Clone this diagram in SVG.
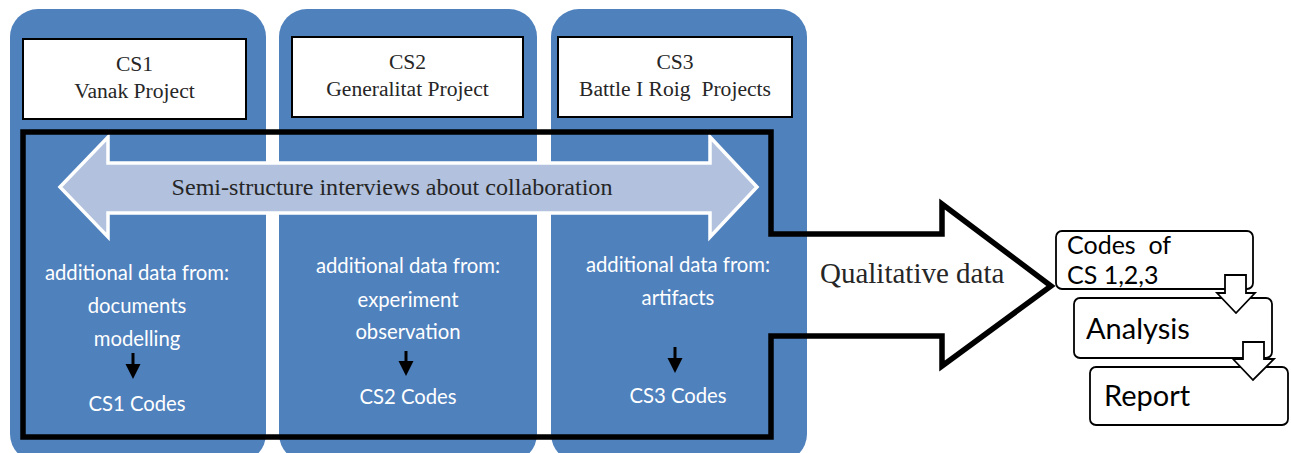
<svg xmlns="http://www.w3.org/2000/svg" width="1291" height="453" viewBox="0 0 1291 453">
  <style>
    .panel { fill: #4F81BD; }
    .cs-box { fill: #ffffff; stroke: #000000; stroke-width: 2; }
    .serif { font-family: "Liberation Serif", "Times New Roman", serif; fill: #262626; }
    .cs-title { font-size: 21.6px; text-anchor: middle; }
    .sans { font-family: Lato, "Open Sans", sans-serif; }
    .panel-text { font-size: 20.3px; fill: #ffffff; text-anchor: middle; }
    .step-box { fill: #ffffff; stroke: #000000; stroke-width: 1.8; }
    .step-text { fill: #000000; }
    .frame { fill: none; stroke: #000000; stroke-width: 5.5; stroke-linejoin: miter; }
    .small-arrow line { stroke: #000000; stroke-width: 3; }
    .small-arrow polygon { fill: #000000; }
    .block-arrow { fill: #ffffff; stroke: #000000; stroke-width: 1.8; }
    .interview { fill: #B1C1DE; stroke: #ffffff; stroke-width: 3.5; }
  </style>

  <rect width="1291" height="453" fill="#ffffff"/>

  <!-- Case study columns (rounded bottoms run just past the lower edge) -->
  <g id="panel-cs1">
    <rect class="panel" x="10" y="9" width="256" height="453" rx="28"/>
    <rect class="cs-box" x="23" y="39" width="223" height="80"/>
    <text class="serif cs-title" x="134.5" y="71">CS1</text>
    <text class="serif cs-title" x="134.5" y="98">Vanak Project</text>
  </g>
  <g id="panel-cs2">
    <rect class="panel" x="279" y="9" width="258" height="453" rx="28"/>
    <rect class="cs-box" x="292" y="37" width="231" height="80"/>
    <text class="serif cs-title" x="407.5" y="69">CS2</text>
    <text class="serif cs-title" x="407.5" y="96">Generalitat Project</text>
  </g>
  <g id="panel-cs3">
    <rect class="panel" x="551" y="9" width="256" height="453" rx="28"/>
    <rect class="cs-box" x="558" y="37" width="234" height="80"/>
    <text class="serif cs-title" x="675" y="69">CS3</text>
    <text class="serif cs-title" x="675" y="96" xml:space="preserve">Battle I Roig  Projects</text>
  </g>

  <!-- Additional data per case -->
  <g id="data-cs1">
    <text class="sans panel-text" x="137" y="280">additional data from:</text>
    <text class="sans panel-text" x="137" y="313">documents</text>
    <text class="sans panel-text" x="137" y="346">modelling</text>
    <text class="sans panel-text" x="137" y="411">CS1 Codes</text>
  </g>
  <g id="data-cs2">
    <text class="sans panel-text" x="408" y="273">additional data from:</text>
    <text class="sans panel-text" x="408" y="307">experiment</text>
    <text class="sans panel-text" x="408" y="339">observation</text>
    <text class="sans panel-text" x="408" y="404">CS2 Codes</text>
  </g>
  <g id="data-cs3">
    <text class="sans panel-text" x="678" y="272">additional data from:</text>
    <text class="sans panel-text" x="678" y="305">artifacts</text>
    <text class="sans panel-text" x="678" y="403">CS3 Codes</text>
  </g>

  <!-- Process steps -->
  <g id="step-codes">
    <rect class="step-box" x="1056" y="231" width="197" height="58" rx="6"/>
    <text class="sans step-text" x="1067" y="254" font-size="25" xml:space="preserve">Codes  of</text>
    <text class="sans step-text" x="1067" y="284" font-size="25">CS 1,2,3</text>
  </g>
  <g id="step-analysis">
    <rect class="step-box" x="1074" y="298" width="198" height="60" rx="6"/>
    <text class="sans step-text" x="1086" y="339" font-size="29">Analysis</text>
  </g>
  <g id="step-report">
    <rect class="step-box" x="1090" y="367" width="198" height="58" rx="6"/>
    <text class="sans step-text" x="1104" y="406" font-size="29">Report</text>
  </g>

  <g id="connectors">
    <!-- interviews span all three cases -->
    <polygon class="interview" points="60,187 108,137 108,163 710,163 710,137 757,187 710,237 710,213 108,213 108,237"/>
    <text class="serif" x="392" y="195" font-size="24.1" text-anchor="middle">Semi-structure interviews about collaboration</text>

    <!-- frame around the case data, leading out as the qualitative data arrow -->
    <polygon class="frame" points="23,132 771,132 771,234 942,234 942,204 1051,286 942,366 942,336 771,336 771,437 23,437"/>
    <text class="serif" x="820" y="283" font-size="29" fill="#404040">Qualitative data</text>

    <!-- per-case code arrows -->
    <g class="small-arrow">
      <line x1="133" y1="353" x2="133" y2="366"/>
      <polygon points="125.5,364 140.5,364 133,379"/>
    </g>
    <g class="small-arrow">
      <line x1="406" y1="351" x2="406" y2="363"/>
      <polygon points="398.5,361 413.5,361 406,376"/>
    </g>
    <g class="small-arrow">
      <line x1="675" y1="347" x2="675" y2="360"/>
      <polygon points="667.5,358 682.5,358 675,373"/>
    </g>

    <!-- step arrows -->
    <polygon class="block-arrow" points="1225,275 1246,275 1246,293 1255,293 1236,313 1217,293 1225,293"/>
    <polygon class="block-arrow" points="1243,342 1264,342 1264,359 1274,359 1253,380 1233,359 1243,359"/>
  </g>
</svg>
